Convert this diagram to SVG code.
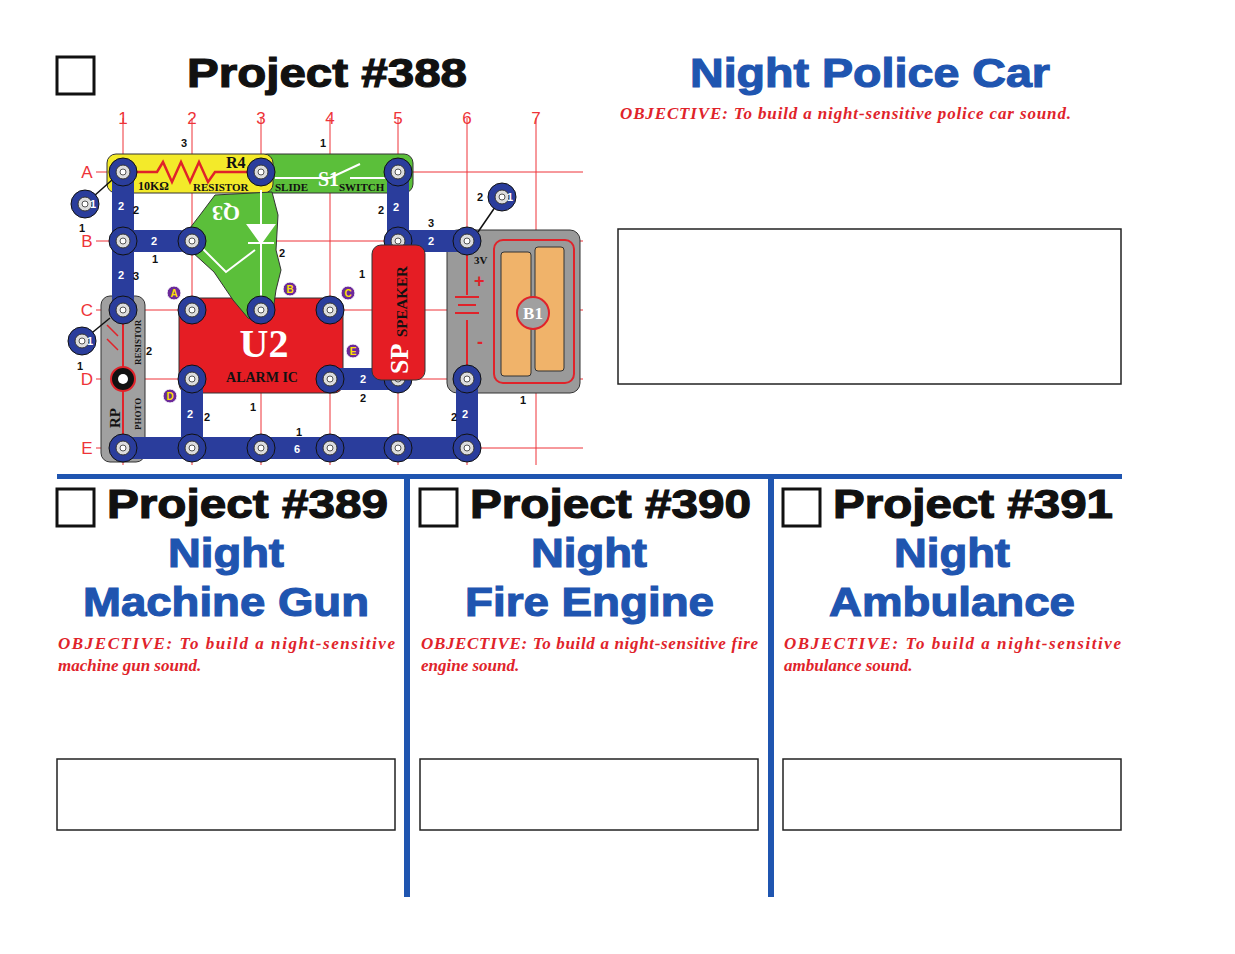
<svg xmlns="http://www.w3.org/2000/svg" width="1235" height="954" viewBox="0 0 1235 954">
<style>
.t{font-family:"Liberation Sans",Arial,sans-serif;font-weight:bold;font-size:41px;stroke:currentColor;stroke-width:1.2}
.k{fill:#111;color:#111}
.bl{fill:#1f55b0;color:#1f55b0}
.obj{font-family:"Liberation Serif",serif;font-weight:bold;font-style:italic;font-size:17px;fill:#e0232a}
.box{fill:none;stroke:#222;stroke-width:1.5}
.cb{fill:#fff;stroke:#111;stroke-width:3}
.g{stroke:#ee3338;stroke-width:1}
.gl{font-family:"Liberation Sans",Arial,sans-serif;font-size:17px;fill:#ee3338}
.w{stroke:#2a3d9c;stroke-width:22;stroke-linecap:round}
.n{font-family:"Liberation Sans",Arial,sans-serif;font-weight:bold;font-size:11px;fill:#111}
.nw{font-family:"Liberation Sans",Arial,sans-serif;font-weight:bold;font-size:11px;fill:#fff}
.p{fill:#6b2a9a;stroke:#fff;stroke-width:1}
.pl{font-family:"Liberation Sans",Arial,sans-serif;font-weight:bold;font-size:10px;fill:#ffe000}
.lab{font-family:"Liberation Serif",serif;font-weight:bold;fill:#111}
</style>
<defs>
<g id="snap"><circle r="14" fill="#2a3d9c" stroke="#111" stroke-width="1"/><circle r="7" fill="#ddd" stroke="#333" stroke-width="1"/><circle r="3" fill="#fff" stroke="#555"/></g>
</defs>
<rect width="1235" height="954" fill="#fff"/>
<g id="header">
<rect class="cb" x="57" y="57" width="37" height="37"/>
<text class="t k" x="187" y="87" textLength="280" lengthAdjust="spacingAndGlyphs">Project #388</text>
<text class="t bl" x="690" y="87" textLength="360" lengthAdjust="spacingAndGlyphs">Night Police Car</text>
<text class="obj" x="620" y="119" textLength="451" lengthAdjust="spacing">OBJECTIVE:  To build a night-sensitive police car sound.</text>
<rect class="box" x="618" y="229" width="503" height="155"/>
</g>
<g id="circuit">
<g class="g">
<line x1="123" y1="118" x2="123" y2="465"/><line x1="192" y1="118" x2="192" y2="465"/><line x1="261" y1="118" x2="261" y2="465"/><line x1="330" y1="118" x2="330" y2="465"/><line x1="398" y1="118" x2="398" y2="465"/><line x1="467" y1="118" x2="467" y2="465"/><line x1="536" y1="118" x2="536" y2="465"/>
<line x1="96" y1="172" x2="583" y2="172"/><line x1="96" y1="241" x2="583" y2="241"/><line x1="96" y1="310" x2="583" y2="310"/><line x1="96" y1="379" x2="583" y2="379"/><line x1="96" y1="448" x2="583" y2="448"/>
</g>
<g class="gl" text-anchor="middle">
<text x="123" y="124">1</text><text x="192" y="124">2</text><text x="261" y="124">3</text><text x="330" y="124">4</text><text x="398" y="124">5</text><text x="467" y="124">6</text><text x="536" y="124">7</text>
<text x="87" y="178">A</text><text x="87" y="247">B</text><text x="87" y="316">C</text><text x="87" y="385">D</text><text x="87" y="454">E</text>
</g>
<rect x="258" y="154" width="155" height="39" rx="9" fill="#5bbf3a" stroke="#333"/>
<path d="M275 178 L330 178 L360 164 M350 178 L400 178" stroke="#fff" stroke-width="2" fill="none"/>
<text x="318" y="186" font-family="Liberation Serif,serif" font-size="20" font-weight="bold" fill="#fff">S1</text>
<text x="275" y="191" class="lab" font-size="11">SLIDE</text>
<text x="339" y="191" class="lab" font-size="11">SWITCH</text>
<rect x="107" y="154" width="166" height="39" rx="9" fill="#f3ea2a" stroke="#333"/>
<path d="M130 172 L157 172 L163 162 L172 182 L181 162 L190 182 L199 162 L208 182 L215 172 L252 172" stroke="#e0232a" stroke-width="2.5" fill="none"/>
<text x="226" y="168" class="lab" font-size="16">R4</text>
<text x="138" y="190" class="lab" font-size="12">10KΩ</text>
<text x="193" y="191" class="lab" font-size="11">RESISTOR</text>
<rect x="101" y="296" width="44" height="166" rx="9" fill="#a0a0a0" stroke="#333"/>
<line x1="123" y1="310" x2="123" y2="448" stroke="#e0232a" stroke-width="2"/>
<circle cx="123" cy="379" r="12" fill="#111" stroke="#e0232a" stroke-width="2"/><circle cx="123" cy="379" r="5" fill="#fff"/>
<path d="M107 325 L118 336 M107 339 L118 350" stroke="#e0232a" stroke-width="1.5"/>
<text class="lab" font-size="15" transform="translate(120,428) rotate(-90)">RP</text>
<text class="lab" font-size="9" transform="translate(141,430) rotate(-90)">PHOTO</text>
<text class="lab" font-size="9" transform="translate(141,365) rotate(-90)">RESISTOR</text>
<rect x="179" y="298" width="164" height="95" rx="9" fill="#e51d24" stroke="#333"/>
<text x="264" y="357" font-family="Liberation Serif,serif" font-weight="bold" font-size="40" fill="#fff" text-anchor="middle">U2</text>
<text x="262" y="382" class="lab" font-size="14" text-anchor="middle">ALARM IC</text>
<path d="M215 195 L272 192 L278 215 L276 250 L281 270 L276 290 L272 318 L262 323 L248 318 L233 300 L214 272 L180 241 L200 215 Z" fill="#5bbf3a" stroke="#333"/>
<line x1="261" y1="190" x2="261" y2="305" stroke="#fff" stroke-width="2"/>
<path d="M248 225 L274 225 L261 243 Z M248 243 L274 243" fill="#fff" stroke="#fff" stroke-width="2"/>
<path d="M200 246 L226 272 L255 250" stroke="#fff" stroke-width="2" fill="none"/>
<text font-family="Liberation Serif,serif" font-weight="bold" font-size="22" fill="#fff" transform="translate(240,206) rotate(180)">Q3</text>
<rect x="447" y="230" width="133" height="163" rx="10" fill="#9a9a9a" stroke="#333"/>
<rect x="494" y="240" width="80" height="143" rx="9" fill="none" stroke="#e0232a" stroke-width="2"/>
<rect x="501" y="252" width="30" height="124" rx="3" fill="#f0b36a" stroke="#333"/>
<rect x="535" y="247" width="29" height="124" rx="3" fill="#f0b36a" stroke="#333"/>
<line x1="467" y1="255" x2="467" y2="295" stroke="#e0232a" stroke-width="2"/><line x1="467" y1="320" x2="467" y2="368" stroke="#e0232a" stroke-width="2"/>
<path d="M455 297 L479 297 M458 305 L476 305 M455 313 L479 313" stroke="#e0232a" stroke-width="2"/>
<text x="474" y="264" class="lab" font-size="11">3V</text>
<text x="474" y="287" font-family="Liberation Sans,sans-serif" font-weight="bold" font-size="18" fill="#e0232a">+</text>
<text x="477" y="348" font-family="Liberation Sans,sans-serif" font-weight="bold" font-size="18" fill="#e0232a">-</text>
<circle cx="533" cy="313" r="16" fill="#a0a0a0" stroke="#e0232a" stroke-width="2"/>
<text x="533" y="319" font-family="Liberation Serif,serif" font-weight="bold" font-size="17" fill="#fff" text-anchor="middle">B1</text>
</g>
<g id="connectors">
<line x1="85" y1="204" x2="112" y2="180" stroke="#111" stroke-width="1.5"/>
<line x1="82" y1="341" x2="110" y2="318" stroke="#111" stroke-width="1.5"/>
<line x1="502" y1="197" x2="478" y2="232" stroke="#111" stroke-width="1.5"/>
<line class="w" x1="123" y1="172" x2="123" y2="241"/>
<line class="w" x1="123" y1="241" x2="123" y2="310"/>
<line class="w" x1="123" y1="241" x2="180" y2="241"/>
<line class="w" x1="123" y1="448" x2="467" y2="448"/>
<line class="w" x1="192" y1="379" x2="192" y2="448"/>
<line class="w" x1="330" y1="379" x2="398" y2="379"/>
<line class="w" x1="398" y1="172" x2="398" y2="241"/>
<line class="w" x1="398" y1="241" x2="467" y2="241"/>
<line class="w" x1="467" y1="379" x2="467" y2="448"/>
<g>
<use href="#snap" x="123" y="172"/><use href="#snap" x="261" y="172"/><use href="#snap" x="398" y="172"/>
<use href="#snap" x="123" y="241"/><use href="#snap" x="192" y="241"/><use href="#snap" x="398" y="241"/><use href="#snap" x="467" y="241"/>
<use href="#snap" x="123" y="310"/><use href="#snap" x="192" y="310"/><use href="#snap" x="261" y="310"/><use href="#snap" x="330" y="310"/>
<use href="#snap" x="192" y="379"/><use href="#snap" x="330" y="379"/><use href="#snap" x="398" y="379"/><use href="#snap" x="467" y="379"/>
<use href="#snap" x="123" y="448"/><use href="#snap" x="192" y="448"/><use href="#snap" x="261" y="448"/><use href="#snap" x="330" y="448"/><use href="#snap" x="398" y="448"/><use href="#snap" x="467" y="448"/>
<use href="#snap" x="85" y="204"/><use href="#snap" x="82" y="341"/><use href="#snap" x="502" y="197"/>
</g>
</g>
<g id="speaker">
<rect x="372" y="245" width="53" height="135" rx="9" fill="#e51d24" stroke="#333"/>
<text font-family="Liberation Serif,serif" font-weight="bold" font-size="26" fill="#fff" transform="translate(408,374) rotate(-90)">SP</text>
<text class="lab" font-size="15" transform="translate(407,337) rotate(-90)">SPEAKER</text>
</g>
<g id="labels">
<text class="n" x="181" y="147">3</text><text class="n" x="320" y="147">1</text><text class="n" x="133" y="214">2</text><text class="n" x="79" y="232">1</text>
<text class="n" x="133" y="280">3</text><text class="n" x="152" y="263">1</text><text class="n" x="279" y="257">2</text><text class="n" x="146" y="355">2</text>
<text class="n" x="77" y="370">1</text><text class="n" x="204" y="421">2</text><text class="n" x="250" y="411">1</text><text class="n" x="296" y="436">1</text>
<text class="n" x="360" y="402">2</text><text class="n" x="359" y="278">1</text><text class="n" x="378" y="214">2</text><text class="n" x="428" y="227">3</text>
<text class="n" x="477" y="201">2</text><text class="n" x="520" y="404">1</text><text class="n" x="451" y="421">2</text>
<text class="nw" x="151" y="245">2</text><text class="nw" x="428" y="245">2</text><text class="nw" x="360" y="383">2</text><text class="nw" x="294" y="453">6</text>
<text class="nw" x="118" y="210">2</text><text class="nw" x="118" y="279">2</text><text class="nw" x="187" y="418">2</text><text class="nw" x="393" y="211">2</text><text class="nw" x="462" y="418">2</text>
<text class="nw" x="90" y="208">1</text><text class="nw" x="87" y="345">1</text><text class="nw" x="507" y="201">1</text>
<circle class="p" cx="174" cy="293" r="7"/><text class="pl" x="174" y="297" text-anchor="middle">A</text>
<circle class="p" cx="290" cy="289" r="7"/><text class="pl" x="290" y="293" text-anchor="middle">B</text>
<circle class="p" cx="348" cy="293" r="7"/><text class="pl" x="348" y="297" text-anchor="middle">C</text>
<circle class="p" cx="170" cy="396" r="7"/><text class="pl" x="170" y="400" text-anchor="middle">D</text>
<circle class="p" cx="353" cy="351" r="7"/><text class="pl" x="353" y="355" text-anchor="middle">E</text>
</g>
<g id="dividers">
<rect x="57" y="474" width="1065" height="5" fill="#1f55b0"/>
<rect x="404" y="477" width="6" height="420" fill="#1f55b0"/>
<rect x="768" y="477" width="6" height="420" fill="#1f55b0"/>
</g>
<g id="p389">
<rect class="cb" x="57" y="489" width="37" height="37"/>
<text class="t k" x="107" y="518" textLength="281" lengthAdjust="spacingAndGlyphs">Project #389</text>
<text class="t bl" x="168" y="567" textLength="116" lengthAdjust="spacingAndGlyphs">Night</text>
<text class="t bl" x="83" y="616" textLength="286" lengthAdjust="spacingAndGlyphs">Machine Gun</text>
<text class="obj" x="58" y="649" textLength="337" lengthAdjust="spacing">OBJECTIVE:  To build a night-sensitive</text>
<text class="obj" x="58" y="671">machine gun sound.</text>
<rect class="box" x="57" y="759" width="338" height="71"/>
</g>
<g id="p390">
<rect class="cb" x="420" y="489" width="37" height="37"/>
<text class="t k" x="470" y="518" textLength="281" lengthAdjust="spacingAndGlyphs">Project #390</text>
<text class="t bl" x="531" y="567" textLength="116" lengthAdjust="spacingAndGlyphs">Night</text>
<text class="t bl" x="465" y="616" textLength="249" lengthAdjust="spacingAndGlyphs">Fire Engine</text>
<text class="obj" x="421" y="649" textLength="337" lengthAdjust="spacing">OBJECTIVE:  To build a night-sensitive fire</text>
<text class="obj" x="421" y="671">engine sound.</text>
<rect class="box" x="420" y="759" width="338" height="71"/>
</g>
<g id="p391">
<rect class="cb" x="783" y="489" width="37" height="37"/>
<text class="t k" x="833" y="518" textLength="280" lengthAdjust="spacingAndGlyphs">Project #391</text>
<text class="t bl" x="894" y="567" textLength="116" lengthAdjust="spacingAndGlyphs">Night</text>
<text class="t bl" x="829" y="616" textLength="246" lengthAdjust="spacingAndGlyphs">Ambulance</text>
<text class="obj" x="784" y="649" textLength="337" lengthAdjust="spacing">OBJECTIVE:  To build a night-sensitive</text>
<text class="obj" x="784" y="671">ambulance sound.</text>
<rect class="box" x="783" y="759" width="338" height="71"/>
</g>
</svg>
